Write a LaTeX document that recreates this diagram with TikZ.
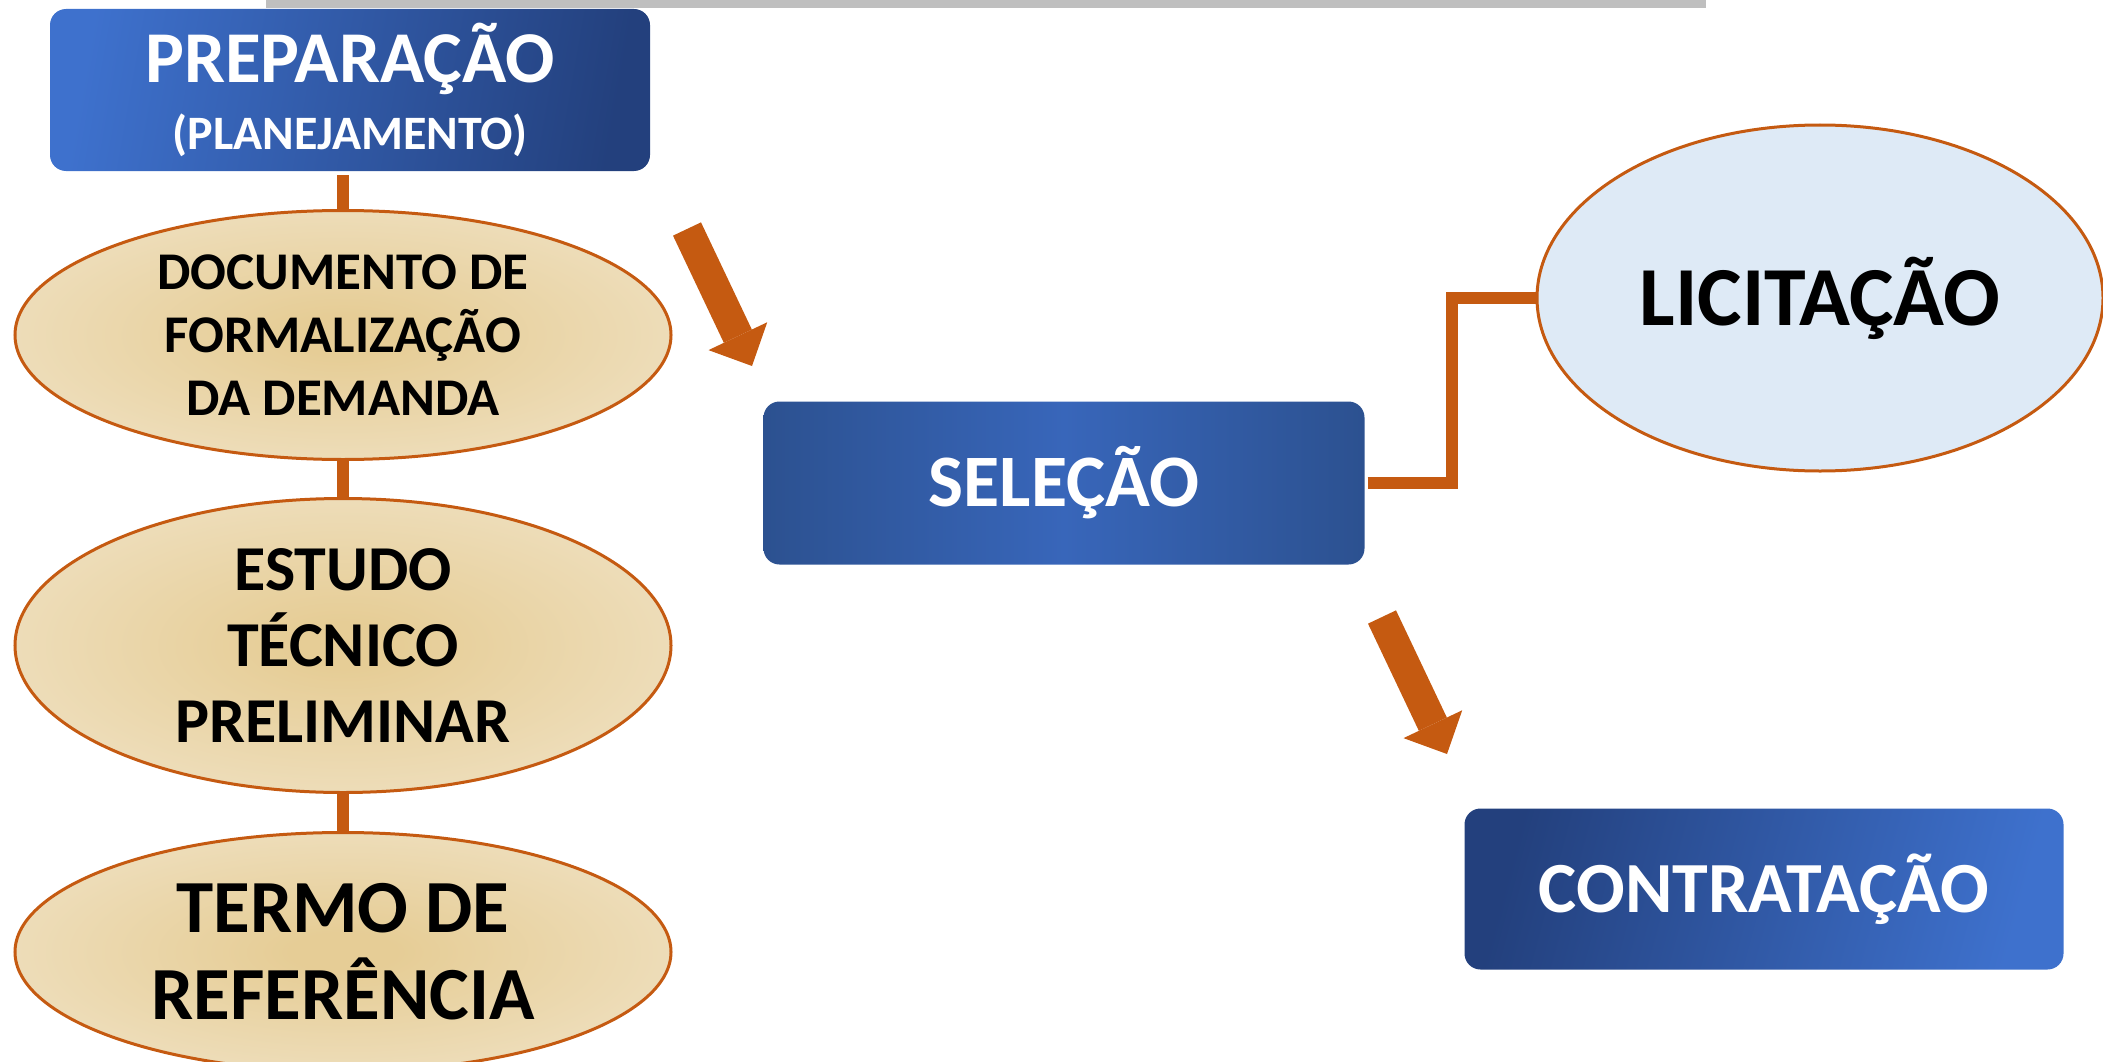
\documentclass[tikz,border=0pt]{standalone}
\usepackage{fontspec}
\setmainfont{Carlito}
\usepackage{tikz}
\usetikzlibrary{shapes.geometric,arrows.meta,positioning,calc}

\definecolor{orangeline}{HTML}{C55A11}
\definecolor{taninner}{HTML}{E6CD96}
\definecolor{tanouter}{HTML}{F6EFE1}
\definecolor{licfill}{HTML}{DEEAF6}
\definecolor{bluelight}{HTML}{3E71CD}
\definecolor{bluedark}{HTML}{23407D}
\definecolor{seledge}{HTML}{2C5190}
\definecolor{selmid}{HTML}{3866BA}
\definecolor{topbar}{HTML}{BFBFBF}

\pgfdeclareradialshading{tanshade}{\pgfpoint{0bp}{0bp}}{color(0bp)=(taninner); color(4bp)=(taninner); color(50bp)=(tanouter); color(75bp)=(tanouter)}

\begin{document}
\begin{tikzpicture}[
    x=1pt, y=-1pt,
    bluebox/.style={rectangle, rounded corners=16pt, minimum width=600pt, minimum height=162pt, inner sep=0pt, text=white, font=\bfseries, align=center},
    tanellipse/.style={ellipse, draw=orangeline, line width=3pt, shading=tanshade, minimum width=656pt, inner sep=0pt, align=center},
    link/.style={draw=orangeline, line width=12pt},
    elbow/.style={draw=orangeline, line width=12pt},
    bigarrow/.style={draw=orangeline, line width=31pt, -{Triangle[length=33pt, width=65pt, line width=0pt]}}
]
    \useasboundingbox (0,0) rectangle (2103,1062);
    \fill[topbar] (266,0) rectangle (1706,8);

    \node[bluebox, left color=bluelight, right color=bluedark, shading angle=80,
          font=\bfseries\fontsize{48}{67}\selectfont] (prep) at (350,90)
        {{\fontsize{73}{73}\selectfont PREPARAÇÃO}\\(PLANEJAMENTO)};

    \node[tanellipse, minimum height=249pt, font=\bfseries\fontsize{53}{63}\selectfont] (dfd) at (343,335)
        {DOCUMENTO DE\\FORMALIZAÇÃO\\DA DEMANDA};
    \node[tanellipse, minimum height=294pt, below=36pt of dfd, font=\bfseries\fontsize{64}{76}\selectfont] (etp)
        {ESTUDO\\TÉCNICO\\PRELIMINAR};
    \node[tanellipse, minimum height=239pt, below=37pt of etp, font=\bfseries\fontsize{75}{87}\selectfont] (tr)
        {TERMO DE\\REFERÊNCIA};

    \node[bluebox, minimum width=601pt, minimum height=163pt, left color=seledge, right color=seledge, middle color=selmid,
          font=\bfseries\fontsize{74}{74}\selectfont] (sel) at (1064,483) {SELEÇÃO};
    \node[ellipse, draw=orangeline, line width=3pt, fill=licfill, minimum width=566pt, minimum height=346pt, inner sep=0pt,
          font=\bfseries\fontsize{84}{84}\selectfont] (lic) at (1820,298) {LICITAÇÃO};
    \node[bluebox, minimum width=599pt, minimum height=161pt, left color=bluedark, right color=bluelight, shading angle=75,
          font=\bfseries\fontsize{72}{72}\selectfont] (contr) at (1764,889) {CONTRATAÇÃO};

    \draw[link] ($(dfd.north |- prep.south)+(0,4)$) -- (dfd.north);
    \draw[link] (dfd.south) -- (etp.north);
    \draw[link] (etp.south) -- (tr.north);
    \draw[elbow] ([xshift=3pt]sel.east) -- ++(84,0) |- (lic.west);

    \coordinate (arr1a) at (687,229);
    \coordinate (arr1b) at (752,366);
    \coordinate (arr2a) at (1382,617);
    \coordinate (arr2b) at (1447,754);
    \draw[bigarrow] (arr1a) -- (arr1b);
    \draw[bigarrow] (arr2a) -- (arr2b);
\end{tikzpicture}
\end{document}
